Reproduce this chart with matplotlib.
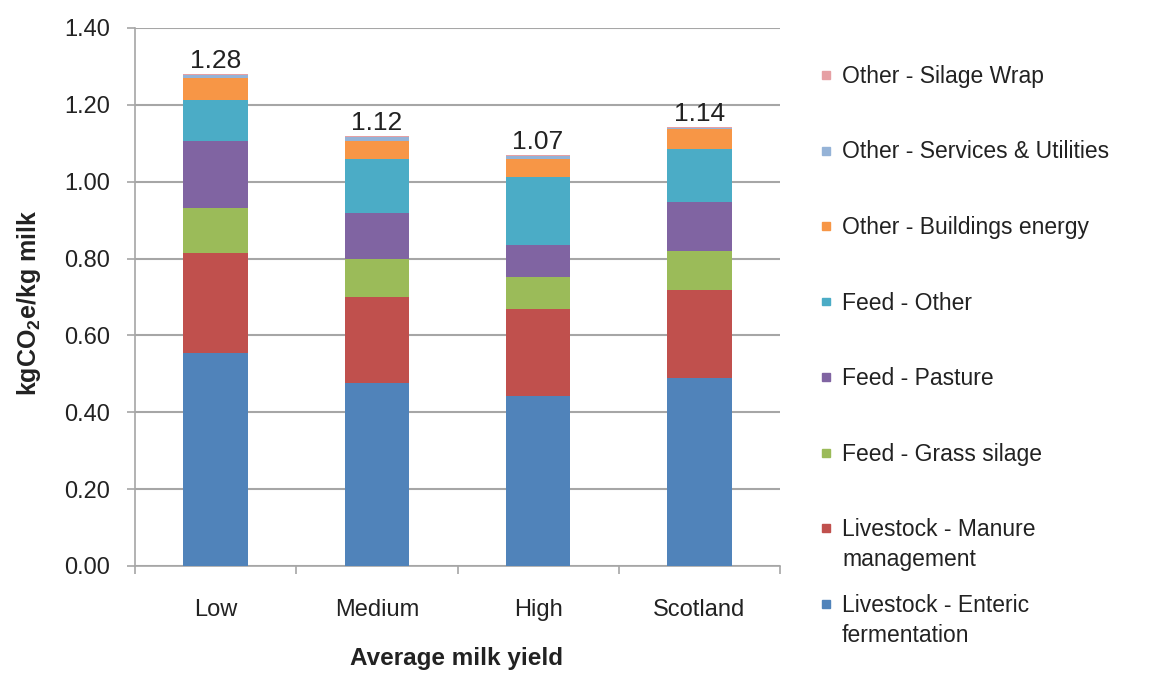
import matplotlib.pyplot as plt
import numpy as np
from matplotlib.patches import Rectangle
from matplotlib.ticker import FormatStrFormatter, FixedLocator

plt.rcParams['font.family'] = ['Liberation Sans', 'DejaVu Sans']
plt.rcParams['mathtext.fontset'] = 'custom'
plt.rcParams['mathtext.rm'] = 'Liberation Sans'
plt.rcParams['mathtext.bf'] = 'Liberation Sans:bold'

# emissions by source, kgCO2e per kg milk
groups = ["Low", "Medium", "High", "Scotland"]
sources = ["Livestock - Enteric\nfermentation", "Livestock - Manure\nmanagement",
           "Feed - Grass silage", "Feed - Pasture", "Feed - Other",
           "Other - Buildings energy", "Other - Services & Utilities",
           "Other - Silage Wrap"]
enteric = [0.554, 0.476, 0.442, 0.489]
manure = [0.260, 0.224, 0.227, 0.229]
grass_silage = [0.118, 0.099, 0.083, 0.102]
pasture = [0.174, 0.120, 0.083, 0.127]
feed_other = [0.107, 0.140, 0.177, 0.138]
buildings = [0.057, 0.047, 0.047, 0.052]
services = [0.007, 0.010, 0.008, 0.004]
silage_wrap = [0.003, 0.004, 0.003, 0.002]

series = [enteric, manure, grass_silage, pasture, feed_other,
          buildings, services, silage_wrap]
colors = ["#5083BA", "#C0504D", "#9BBB59", "#8064A2", "#4BACC6",
          "#F79646", "#95B3D7", "#E6A0A4"]

W, H = 1157, 673
fig = plt.figure(figsize=(W / 100, H / 100), dpi=100)
ax = fig.add_axes([135 / W, 1 - 566 / H, 645 / W, 538 / H])

x = np.arange(len(groups))
bottom = np.zeros(len(groups))
for vals, col in zip(series, colors):
    ax.bar(x, vals, 0.4, bottom=bottom, color=col, zorder=3)
    bottom += np.array(vals)

txt = "#222222"
for xi, total in zip(x, bottom):
    ax.annotate(f"{total:.2f}", (xi, total), xytext=(0, 0.5),
                textcoords="offset points", ha="center", va="bottom",
                fontsize=19, color=txt)

ax.set_xlim(-0.5, 3.5)
ax.set_ylim(0, 1.4)
ax.set_yticks(np.arange(0, 1.41, 0.2))
ax.yaxis.set_major_formatter(FormatStrFormatter("%.2f"))
ax.grid(axis="y", color="#A6A6A6", linewidth=1.5, zorder=0)

ax.set_xticks(x)
ax.set_xticklabels(groups)
ax.xaxis.set_minor_locator(FixedLocator(np.arange(-0.5, 3.6, 1)))
ax.tick_params(axis="x", which="major", length=0, pad=24,
               labelsize=17, labelcolor=txt)
ax.tick_params(axis="x", which="minor", length=6, width=1.2, color="#A6A6A6")
ax.tick_params(axis="y", length=6, width=1.2, color="#A6A6A6", pad=12,
               labelsize=17, labelcolor=txt)

for side in ["top", "right"]:
    ax.spines[side].set_visible(False)
for side in ["left", "bottom"]:
    ax.spines[side].set_color("#A6A6A6")
    ax.spines[side].set_linewidth(1.2)

fig.text(29 / W, 1 - 303 / H, r"kgCO$_\mathbf{2}$e/kg milk", rotation=90,
         ha="center", va="center", fontsize=18, fontweight="bold", color=txt)
fig.text(457 / W, 1 - 659 / H, "Average milk yield", ha="center",
         va="center", fontsize=17.5, fontweight="bold", color=txt)

# legend, top entry first, evenly spaced
step = 75.5
for i, (label, col) in enumerate(zip(sources[::-1], colors[::-1])):
    yc = 78 + i * step
    fig.patches.append(Rectangle((822 / W, 1 - (yc + 1) / H), 8 / W, 8 / H,
                                 transform=fig.transFigure, color=col))
    fig.text(842 / W, 1 - (yc - 13) / H, label, ha="left", va="top",
             fontsize=16.5, color=txt, linespacing=1.4)

fig.savefig("out.png", dpi=100)
